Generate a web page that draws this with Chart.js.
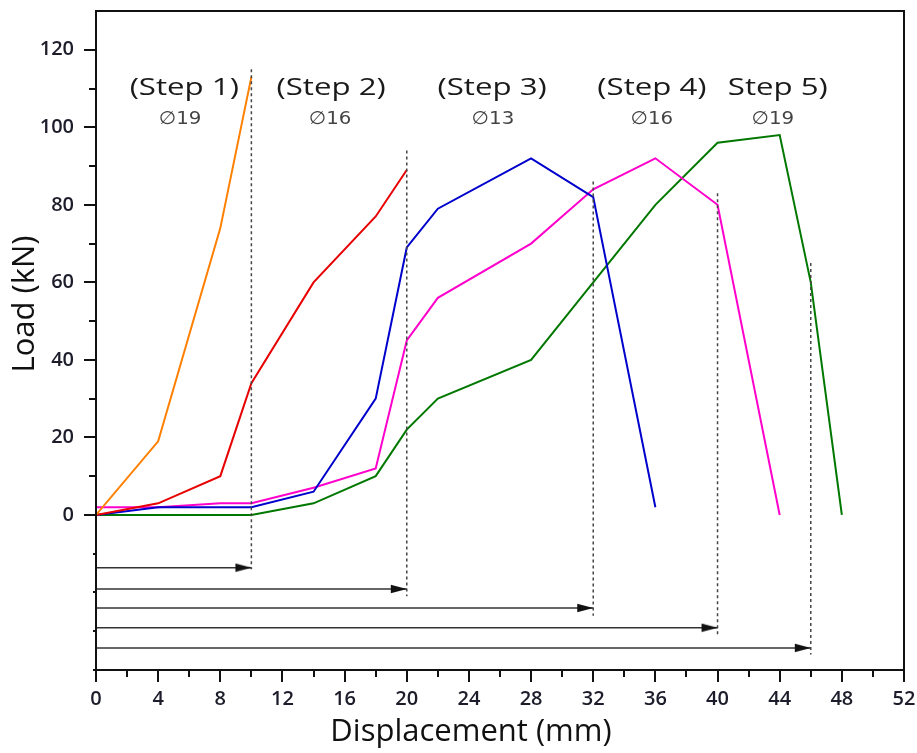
<!DOCTYPE html>
<html>
<head>
<meta charset="utf-8">
<script src="https://cdn.jsdelivr.net/npm/chart.js@4/dist/chart.umd.min.js"></script>
<style>
  html, body { margin: 0; padding: 0; background: #fff; }
  #wrap { width: 917px; height: 753px; position: relative; }
</style>
</head>
<body>
<div id="wrap"><canvas id="c" width="917" height="753"></canvas></div>
<script>
// ---- data ----
const step1Disp = [0, 4, 8, 10];
const step1Load = [0, 19, 74, 113];
const step2Disp = [0, 4, 8, 10, 14, 18, 20];
const step2Load = [0, 3, 10, 34, 60, 77, 89];
const step3Disp = [0, 4, 8, 10, 14, 18, 20, 22, 28, 32, 36];
const step3Load = [0, 2, 2, 2, 6, 30, 69, 79, 92, 82, 2];
const step4Disp = [0, 4, 8, 10, 14, 18, 20, 22, 28, 32, 36, 40, 44];
const step4Load = [2, 2, 3, 3, 7, 12, 45, 56, 70, 84, 92, 80, 0];
const step5Disp = [0, 4, 8, 10, 14, 18, 20, 22, 28, 32, 36, 40, 44, 46, 48];
const step5Load = [0, 0, 0, 0, 3, 10, 22, 30, 40, 60, 80, 96, 98, 60, 0];

// step boundaries (dotted lines) and arrows
const boundaryDisp = [10, 20, 32, 40, 46];
const boundaryTop = [115, 94, 86, 83, 65];
const boundaryBottom = [-14, -21, -26, -31, -36];
const arrowLoad = [-13.6, -19.1, -24.0, -29.1, -34.3];

// labels
const stepLabels = ['(Step 1)', '(Step 2)', '(Step 3)', '(Step 4)', 'Step 5)'];
const stepLabelDisp = [5.68, 15.13, 25.49, 35.78, 43.88];
const diamLabels = ['\u220519', '\u220516', '\u220513', '\u220516', '\u220519'];
const diamLabelDisp = [5.42, 15.07, 25.55, 35.78, 43.56];
const stepLabelLoad = 110;
const diamLabelLoad = 102;

const yTickLabels = [0, 20, 40, 60, 80, 100, 120];
const xTickLabels = [0, 4, 8, 12, 16, 20, 24, 28, 32, 36, 40, 44, 48, 52];

const seriesColors = ['#ff8000', '#e80000', '#0000cc', '#ff00cc', '#007800'];

// ---- build datasets ----
function pts(xs, ys) { return xs.map((x, i) => ({ x: x, y: ys[i] })); }

// arrowhead image (tip at centre)
const head = document.createElement('canvas');
head.width = 36; head.height = 10;
(function () {
  const g = head.getContext('2d');
  g.fillStyle = '#111';
  g.beginPath();
  g.moveTo(18, 5);
  g.lineTo(2, 0.8);
  g.lineTo(2, 9.2);
  g.closePath();
  g.fill();
})();

const datasets = [];
const curves = [[step1Disp, step1Load], [step2Disp, step2Load], [step3Disp, step3Load], [step4Disp, step4Load], [step5Disp, step5Load]];
curves.forEach((c, i) => {
  datasets.push({
    data: pts(c[0], c[1]),
    showLine: true,
    borderColor: seriesColors[i],
    backgroundColor: seriesColors[i],
    borderWidth: 2,
    pointRadius: 0,
    tension: 0,
    order: 2
  });
});
boundaryDisp.forEach((x, i) => {
  datasets.push({
    data: [{ x: x, y: boundaryTop[i] }, { x: x, y: boundaryBottom[i] }],
    showLine: true,
    borderColor: '#444',
    borderWidth: 1.5,
    borderDash: [3, 3],
    pointRadius: 0,
    order: 1
  });
  datasets.push({
    data: [{ x: 0, y: arrowLoad[i] }, { x: x, y: arrowLoad[i] }],
    showLine: true,
    borderColor: '#333',
    borderWidth: 1.5,
    pointStyle: head,
    pointRadius: (ctx) => ctx.dataIndex === 1 ? 5 : 0,
    order: 1
  });
});

// ---- plugins ----
const framePlugin = {
  id: 'frame',
  afterDraw(chart) {
    const { ctx, chartArea: a, scales } = chart;
    const xs = scales.x, ys = scales.y;
    ctx.save();
    // ticks
    ctx.strokeStyle = '#111';
    ctx.lineWidth = 2;
    for (let v = -40; v < 130; v += 10) {
      const len = v < 0 ? 3 : (v % 20 === 0 ? 12 : 7);
      const py = Math.round(ys.getPixelForValue(v));
      ctx.beginPath();
      ctx.moveTo(a.left - len, py);
      ctx.lineTo(a.left, py);
      ctx.stroke();
    }
    for (let v = 0; v <= 52; v += 2) {
      const len = v % 4 === 0 ? 12 : 7;
      const px = Math.round(xs.getPixelForValue(v));
      ctx.beginPath();
      ctx.moveTo(px, a.bottom);
      ctx.lineTo(px, a.bottom + len);
      ctx.stroke();
    }
    // frame
    ctx.strokeStyle = '#111';
    ctx.lineWidth = 2;
    ctx.strokeRect(a.left, a.top, a.right - a.left, a.bottom - a.top);

    // step labels
    ctx.textAlign = 'center';
    ctx.textBaseline = 'middle';
    stepLabels.forEach((t, i) => {
      const px = xs.getPixelForValue(stepLabelDisp[i]);
      const py = ys.getPixelForValue(stepLabelLoad);
      ctx.save();
      ctx.translate(px, py);
      ctx.scale(1.3, 1);
      ctx.fillStyle = '#1a1a1a';
      ctx.font = '24px "Open Sans"';
      ctx.fillText(t, 0, 0);
      ctx.restore();
    });
    diamLabels.forEach((t, i) => {
      const px = xs.getPixelForValue(diamLabelDisp[i]);
      const py = ys.getPixelForValue(diamLabelLoad);
      ctx.save();
      ctx.translate(px, py);
      ctx.scale(1.1, 1);
      ctx.fillStyle = '#444';
      ctx.font = '18px "DejaVu Sans"';
      ctx.fillText(t, 0, 0);
      ctx.restore();
    });

    // axis titles
    ctx.fillStyle = '#111';
    ctx.font = '31px "Open Sans"';
    ctx.fillText('Displacement (mm)', 471, 732);
    ctx.save();
    ctx.translate(25, 304);
    ctx.rotate(-Math.PI / 2);
    ctx.fillText('Load (kN)', 0, 0);
    ctx.restore();
    ctx.restore();
  }
};

Chart.defaults.font.family = '"Open Sans", sans-serif';

new Chart(document.getElementById('c'), {
  type: 'scatter',
  data: { datasets: datasets },
  options: {
    responsive: false,
    animation: false,
    events: [],
    layout: { padding: { top: 11, right: 13, left: 0, bottom: 0 } },
    plugins: { legend: { display: false }, tooltip: { enabled: false }, title: { display: false } },
    scales: {
      x: {
        type: 'linear',
        min: 0, max: 52,
        grid: { display: false, drawTicks: false },
        border: { display: false },
        afterFit(s) { s.height = 83; s.paddingLeft = 0; s.paddingRight = 0; },
        afterBuildTicks(s) { s.ticks = xTickLabels.map(v => ({ value: v })); },
        ticks: {
          padding: 17,
          color: '#1c1c2a',
          font: { size: 20, weight: '600' },
          maxRotation: 0,
          autoSkip: false
        }
      },
      y: {
        type: 'linear',
        min: -40, max: 130,
        grid: { display: false, drawTicks: false },
        border: { display: false },
        afterFit(s) { s.width = 96; s.paddingTop = 0; s.paddingBottom = 0; },
        afterBuildTicks(s) { s.ticks = yTickLabels.map(v => ({ value: v })); },
        ticks: {
          padding: 22,
          color: '#1c1c2a',
          font: { size: 20, weight: '600' },
          autoSkip: false
        }
      }
    }
  },
  plugins: [framePlugin]
});
</script>
</body>
</html>
